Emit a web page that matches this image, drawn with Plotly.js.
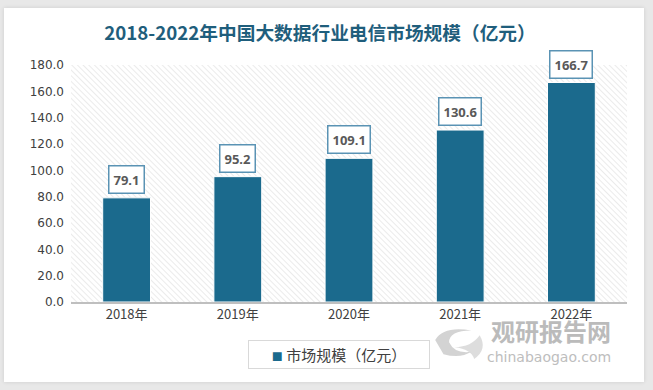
<!DOCTYPE html>
<html>
<head>
<meta charset="utf-8">
<script src="https://cdn.plot.ly/plotly-3.0.1.min.js"></script>
<style>
  html, body { margin: 0; padding: 0; background: #e8e8e8; }
  #card { position: absolute; left: 4px; top: 8px; width: 640px; height: 374px; background: #fff; box-shadow: 0 0 4px rgba(0,0,0,0.12); }
  #chart { position: absolute; left: 0; top: 0; width: 653px; height: 390px; }
</style>
</head>
<body>
<div id="card"></div>
<div id="chart"></div>
<script>
const categories = ['2018年', '2019年', '2020年', '2021年', '2022年'];
const values = [79.1, 95.2, 109.1, 130.6, 166.7];
const seriesName = '市场规模（亿元）';
const titleText = '2018-2022年中国大数据行业电信市场规模（亿元）';
const yTicks = [0, 20, 40, 60, 80, 100, 120, 140, 160, 180];

const barColor = '#1b6a8d';
const plotW = 556, plotH = 237;
const hatch = `<svg xmlns="http://www.w3.org/2000/svg" width="${plotW}" height="${plotH}">` +
  `<defs><pattern id="p" width="4" height="4" patternUnits="userSpaceOnUse" patternTransform="rotate(-45)">` +
  `<rect width="4" height="4" fill="#ffffff"/><line x1="0" y1="0" x2="0" y2="4" stroke="#e0e0e0" stroke-width="1.3"/></pattern></defs>` +
  `<rect width="${plotW}" height="${plotH}" fill="url(#p)"/></svg>`;
const hatchUri = 'data:image/svg+xml;base64,' + btoa(hatch);

const trace = {
  type: 'bar',
  x: categories,
  y: values,
  name: seriesName,
  showlegend: false,
  marker: { color: barColor, line: { color: '#ffffff', width: 1 } },
  hoverinfo: 'none'
};

const annotations = categories.map((c, i) => ({
  x: c, y: values[i], xref: 'x', yref: 'y',
  text: values[i].toFixed(1),
  showarrow: false, yanchor: 'bottom', yshift: 4,
  bgcolor: '#ffffff', bordercolor: '#5a93b4', borderwidth: 1.5, borderpad: 4,
  font: { family: 'Noto Sans, DejaVu Sans, sans-serif', size: 13, color: '#595959', weight: 'bold' }
}));

// legend box
annotations.push({
  xref: 'paper', yref: 'paper', x: (339 - 71) / 556, y: (302 - 354.5) / 237,
  xanchor: 'center', yanchor: 'middle', width: 178, height: 25,
  text: `<span style="color:${barColor};font-size:11px">■</span> ` + seriesName,
  showarrow: false, bgcolor: '#ffffff', bordercolor: '#d9d9d9', borderwidth: 1, borderpad: 1,
  font: { family: 'Noto Sans CJK SC', size: 15, color: '#404040' }
});

annotations.push({
  xref: 'paper', yref: 'paper', x: 0.975, y: -0.122, xanchor: 'right', yanchor: 'middle',
  text: '<b>观研报告网</b>', showarrow: false,
  font: { family: 'Noto Sans CJK SC', size: 24, color: '#b0b0b0' }, opacity: 0.85
});
annotations.push({
  xref: 'paper', yref: 'paper', x: 0.975, y: -0.232, xanchor: 'right', yanchor: 'middle',
  text: 'chinabaogao.com', showarrow: false,
  font: { family: 'DejaVu Sans', size: 14, color: '#b3b3b3' }, opacity: 0.85
});

const layout = {
  width: 653, height: 390,
  paper_bgcolor: 'rgba(0,0,0,0)',
  plot_bgcolor: 'rgba(0,0,0,0)',
  margin: { l: 71, r: 26, t: 65, b: 88 },
  title: {
    text: '<b>' + titleText + '</b>',
    x: 320 / 653, xanchor: 'center', xref: 'container',
    y: 0.915, yanchor: 'middle',
    font: { family: 'Noto Sans CJK SC', size: 18.7, color: '#1f5e7c' }
  },
  bargap: 0.57,
  xaxis: {
    type: 'category',
    showline: true, linecolor: '#bfbfbf', linewidth: 1.5,
    ticks: '', showgrid: false,
    tickfont: { family: 'Noto Sans CJK SC', size: 13, color: '#404040' }
  },
  yaxis: {
    range: [0, 180], tickvals: yTicks, tickformat: '.1f',
    showgrid: false, zeroline: false, showline: false, ticks: '',
    tickfont: { family: 'DejaVu Sans', size: 12, color: '#404040' },
    ticklabelstandoff: 6
  },
  showlegend: false,
  images: [{
    source: hatchUri, xref: 'paper', yref: 'paper', x: 0, y: 1,
    sizex: 1, sizey: 1, sizing: 'stretch', layer: 'below', xanchor: 'left', yanchor: 'top'
  }],
  shapes: [
    { type: 'path', xref: 'paper', yref: 'paper', layer: 'above',
      path: 'M 0.655 -0.16 Q 0.67 -0.10 0.72 -0.12 Q 0.68 -0.12 0.68 -0.17 Q 0.69 -0.22 0.72 -0.21 Q 0.70 -0.24 0.67 -0.22 Z',
      fillcolor: '#c8c8c8', line: { width: 0 }, opacity: 0.8 },
    { type: 'path', xref: 'paper', yref: 'paper', layer: 'above',
      path: 'M 0.735 -0.14 Q 0.72 -0.19 0.69 -0.19 Q 0.72 -0.20 0.725 -0.24 Q 0.75 -0.20 0.735 -0.14 Z',
      fillcolor: '#d4d4d4', line: { width: 0 }, opacity: 0.8 }
  ],
  annotations: annotations
};

Plotly.newPlot('chart', [trace], layout, { displayModeBar: false, staticPlot: true });
</script>
</body>
</html>
